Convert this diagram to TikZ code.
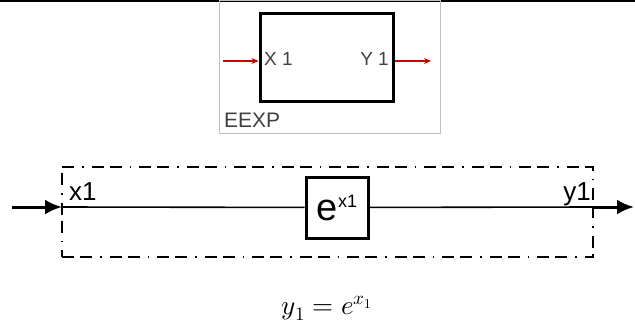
\documentclass[tikz,border=0pt]{standalone}
\usepackage{unicode-math}
\setmathfont{Latin Modern Math}
\setsansfont{Liberation Sans}
\usetikzlibrary{arrows.meta,positioning}
\tikzstyle{panel} = [rectangle, draw=black!25, line width=0.8pt, inner sep=0pt]
\tikzstyle{block} = [rectangle, draw, line width=3pt, inner sep=0pt]
\tikzstyle{frame} = [rectangle, draw, line width=1.6pt, inner sep=0pt,
    dash pattern=on 12pt off 6pt on 12pt off 8pt on 1.5pt off 8pt]
\tikzstyle{port} = [inner sep=0pt, font=\sffamily\fontsize{19}{19}\selectfont, text=black!75]
\tikzstyle{label} = [inner sep=0pt, font=\sffamily\fontsize{26}{26}\selectfont]
\tikzstyle{redarrow} = [draw=red!80!black, line width=1.2pt,
    -{Stealth[length=7pt,width=6pt]}]
\tikzstyle{arrow} = [line width=3pt, -{Latex[length=17pt,width=15pt]}]

\begin{document}
\begin{tikzpicture}[x=1pt, y=-1pt]
\useasboundingbox (0,0) rectangle (635,327);
\draw[line width=2.5pt] (0,1) -- (635,1);
% block icon
\node[panel, minimum width=221pt, minimum height=133pt] (panel) at (329.5,66.5) {};
\node[block, minimum width=133pt, minimum height=88pt] (eexp) at (326.5,57) {};
\node[port, anchor=west] (xport) at (264,59) {X 1};
\node[port, anchor=east] (yport) at (389,59) {Y 1};
\node[port, anchor=base west, font=\sffamily\fontsize{21}{21}\selectfont] (name) at (224,127) {EEXP};
\coordinate (xin) at (223,61);
\coordinate (yout) at (431,61);
\draw[redarrow] (xin) -- (xin -| eexp.west);
\draw[redarrow] (yout -| eexp.east) -- (yout);
% structure
\node[frame, minimum width=531pt, minimum height=90pt] (sub) at (327.5,212) {};
\node[block, minimum width=62pt, minimum height=61pt] (func) at (337,207.5)
  {\sffamily\fontsize{38}{38}\selectfont e\raisebox{13pt}{\fontsize{18}{18}\selectfont x1}};
\coordinate (x1) at (62,207);
\coordinate (y1) at (593,207);
\coordinate (in) at (12,207);
\coordinate (out) at (634,207);
\draw[line width=1.6pt] (x1) -- (func);
\draw[line width=1.6pt] (func) -- (y1);
\draw[arrow] (in) -- (x1);
\draw[arrow] (y1) -- (out);
\node[label, anchor=base west] (xlab) at (69,200) {x1};
\node[label, anchor=base east] (ylab) at (591,200) {y1};
\node[anchor=base] (eq) at (327,314) {\fontsize{27}{27}\selectfont $y_1 = e^{x_1}$};
\end{tikzpicture}
\end{document}
